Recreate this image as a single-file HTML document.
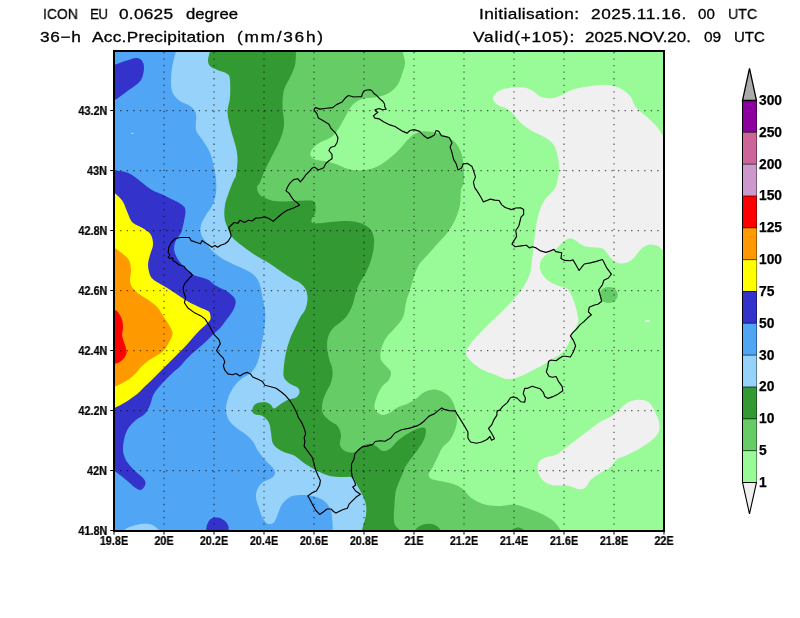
<!DOCTYPE html><html><head><meta charset="utf-8"><style>
html,body{margin:0;padding:0;background:#fff}
#w{position:relative;width:800px;height:618px;overflow:hidden;background:#fff;font-family:"Liberation Sans",sans-serif;color:#000}
.t{position:absolute;white-space:pre;font-size:15px;line-height:16px;transform-origin:0 50%;will-change:transform;-webkit-text-stroke:0.3px #000}
.cb{position:absolute;left:758.6px;font-weight:bold;font-size:13.8px;line-height:14px;-webkit-text-stroke:0.25px #000;will-change:transform}
.yl{position:absolute;right:692.6px;font-weight:bold;font-size:12.5px;line-height:12px;text-align:right;white-space:nowrap;transform:scaleX(0.87);transform-origin:100% 50%;-webkit-text-stroke:0.2px #000;will-change:transform}
.xl{position:absolute;top:534.6px;font-weight:bold;font-size:12.5px;line-height:12px;width:60px;text-align:center;margin-left:-30px;transform:scaleX(0.87);-webkit-text-stroke:0.2px #000;will-change:transform}

</style></head><body><div id="w">
<svg width="800" height="618" viewBox="0 0 800 618" style="position:absolute;left:0;top:0">
<defs><clipPath id="cp"><rect x="114.0" y="51.0" width="550.0" height="480.0"/></clipPath></defs>
<g clip-path="url(#cp)">
<rect x="100" y="40" width="600" height="520" fill="#98fb98"/>
<path d="M493.0,97.8C493.2,95.5 495.8,92.6 498.5,91.0C501.2,89.4 505.4,88.6 509.5,88.0C513.6,87.4 519.1,86.8 523.0,87.3C526.9,87.8 530.2,89.5 533.0,91.0C535.8,92.5 537.0,95.2 540.0,96.4C543.0,97.6 547.1,98.5 550.8,98.3C554.4,98.1 558.1,96.5 561.8,95.0C565.4,93.5 568.2,91.0 572.8,89.5C577.3,88.0 583.5,87.0 589.0,86.2C594.5,85.4 600.7,84.5 605.8,84.8C610.8,85.1 615.4,86.1 619.5,88.0C623.6,89.9 627.8,93.2 630.5,96.4C633.2,99.6 633.2,104.0 636.0,107.4C638.8,110.8 643.3,113.6 647.0,117.0C650.7,120.4 655.2,124.6 658.0,128.0C660.8,131.4 661.2,133.9 664.0,137.6C666.8,141.3 672.3,139.6 675.0,150.0C677.7,160.4 680.0,184.2 680.0,200.0C680.0,215.8 677.8,236.7 675.0,245.0C672.2,253.3 666.3,249.8 663.5,250.0C660.7,250.2 660.3,246.9 658.0,246.0C655.7,245.1 652.5,244.1 649.8,244.6C647.0,245.1 644.2,246.4 641.5,248.8C638.8,251.1 636.0,256.0 633.2,258.4C630.5,260.8 627.8,262.3 625.0,263.0C622.2,263.7 619.2,263.5 616.8,262.5C614.2,261.5 612.3,259.3 610.0,257.0C607.7,254.7 605.5,250.3 603.0,248.8C600.5,247.2 598.0,247.9 594.8,247.4C591.5,246.9 587.0,247.2 583.8,246.0C580.5,244.8 577.8,241.8 575.5,240.5C573.2,239.2 572.1,238.1 570.0,238.3C567.9,238.6 565.3,240.3 563.0,242.0C560.7,243.7 559.2,246.5 556.2,248.8C553.3,251.0 547.9,253.3 545.2,255.6C542.6,257.9 541.0,259.8 540.3,262.5C539.6,265.2 539.7,269.0 541.0,272.0C542.3,275.0 545.0,278.1 548.0,280.4C551.0,282.7 555.8,284.6 559.0,286.0C562.2,287.4 565.0,286.6 567.2,288.6C569.5,290.6 571.1,294.4 572.8,298.2C574.4,302.1 576.0,308.0 576.9,312.0C577.8,316.0 578.9,318.6 578.2,322.0C577.6,325.4 574.4,328.8 572.8,332.4C571.1,336.0 570.4,340.0 568.6,343.4C566.8,346.8 564.7,350.2 561.8,353.0C558.8,355.8 554.4,357.6 550.8,359.9C547.1,362.2 543.4,364.7 539.8,366.8C536.1,368.8 532.4,370.5 528.8,372.2C525.1,374.0 521.4,376.1 517.8,377.2C514.1,378.3 510.4,379.4 506.8,379.0C503.1,378.6 499.9,376.6 495.8,375.0C491.6,373.4 486.1,371.8 482.0,369.5C477.9,367.2 473.7,364.0 471.0,361.2C468.3,358.5 466.2,355.8 466.0,353.0C465.8,350.2 467.2,348.2 469.6,344.8C472.0,341.3 477.2,336.0 480.6,332.4C484.0,328.8 487.0,325.9 490.0,323.0C493.0,320.1 494.8,318.4 498.5,314.8C502.2,311.1 508.1,305.6 512.2,301.0C516.4,296.4 520.3,291.8 523.2,287.2C526.2,282.7 528.5,278.1 530.0,273.5C531.5,268.9 531.3,265.2 532.0,259.8C532.7,254.2 533.5,246.5 534.2,240.5C535.0,234.5 535.6,229.0 536.5,224.0C537.4,219.0 538.3,214.4 539.8,210.2C541.2,206.1 542.7,202.9 545.2,199.2C547.8,195.6 552.9,191.5 555.0,188.2C557.1,185.0 556.9,183.2 557.6,180.0C558.3,176.8 559.0,173.3 559.0,169.2C559.0,165.2 558.5,159.6 557.6,155.5C556.7,151.4 555.6,147.5 553.5,144.5C551.4,141.5 548.9,139.9 545.2,137.6C541.6,135.3 535.6,133.3 531.5,130.8C527.4,128.2 523.5,125.2 520.5,122.5C517.5,119.8 515.9,116.5 513.6,114.2C511.3,112.0 509.5,110.4 506.8,108.8C504.0,107.1 499.3,106.4 497.0,104.6C494.7,102.8 492.8,100.0 493.0,97.8Z" fill="#f0f0f0"/>
<path d="M538.4,463.0C539.5,460.4 542.3,458.9 545.2,457.5C548.2,456.1 552.6,456.6 556.2,454.8C559.9,452.9 563.6,449.2 567.2,446.5C570.9,443.8 574.6,441.0 578.2,438.2C581.9,435.5 585.6,432.8 589.2,430.0C592.9,427.2 596.6,424.0 600.2,421.8C603.9,419.5 608.0,418.3 611.2,416.2C614.5,414.2 616.8,411.7 619.5,409.4C622.2,407.1 624.5,404.1 627.8,402.5C631.0,400.9 635.3,399.8 638.8,399.8C642.2,399.7 645.9,400.4 648.4,402.0C650.9,403.6 652.2,406.3 653.9,409.4C655.6,412.5 657.7,417.0 658.6,420.4C659.5,423.8 660.0,427.2 659.4,430.0C658.8,432.8 657.3,434.6 655.2,436.9C653.2,439.2 650.2,441.5 647.0,443.8C643.8,446.0 639.7,448.6 636.0,450.6C632.3,452.6 628.2,454.6 625.0,456.0C621.8,457.4 619.2,457.3 616.8,459.2C614.2,461.2 612.8,465.2 610.0,467.5C607.2,469.8 603.5,470.9 600.2,473.0C597.0,475.1 593.1,477.5 590.6,480.0C588.1,482.5 587.1,486.5 585.0,488.0C582.9,489.5 581.2,489.4 578.2,489.0C575.3,488.6 571.4,486.0 567.2,485.4C563.1,484.8 557.4,486.1 553.5,485.4C549.6,484.7 546.5,483.3 544.0,481.2C541.5,479.2 539.3,476.0 538.4,473.0C537.5,470.0 537.3,465.6 538.4,463.0Z" fill="#f0f0f0"/>
<path d="M402.5,40.0C402.5,41.8 402.1,46.8 402.5,50.5C402.9,54.2 405.0,58.8 405.0,62.5C405.0,66.2 403.8,68.8 402.5,72.5C401.2,76.2 400.0,81.5 397.5,85.0C395.0,88.5 391.2,91.7 387.5,93.8C383.8,95.8 379.2,96.7 375.0,97.5C370.8,98.3 366.2,97.5 362.5,98.8C358.8,100.0 355.2,102.3 352.5,105.0C349.8,107.7 348.3,111.5 346.2,115.0C344.2,118.5 342.3,122.7 340.0,126.2C337.7,129.8 335.8,133.5 332.5,136.2C329.2,139.0 323.3,140.4 320.0,142.5C316.7,144.6 314.1,146.7 312.5,148.8C310.9,150.8 310.1,153.2 310.5,155.0C310.9,156.8 312.6,158.5 315.0,159.5C317.4,160.5 321.7,160.5 325.0,161.2C328.3,162.0 331.2,162.5 335.0,163.8C338.8,165.0 343.3,167.6 347.5,168.8C351.7,169.9 355.4,170.7 360.0,170.5C364.6,170.3 370.4,169.2 375.0,167.5C379.6,165.8 383.3,163.1 387.5,160.0C391.7,156.9 396.7,152.1 400.0,148.8C403.3,145.4 405.0,142.5 407.5,140.0C410.0,137.5 412.1,135.2 415.0,133.8C417.9,132.3 420.8,131.2 425.0,131.2C429.2,131.2 435.4,132.3 440.0,133.8C444.6,135.2 449.4,137.7 452.5,140.0C455.6,142.3 457.1,144.6 458.8,147.5C460.4,150.4 461.7,153.8 462.5,157.5C463.3,161.2 463.5,165.8 463.8,170.0C464.0,174.2 464.2,179.2 463.8,182.5C463.3,185.8 461.6,186.2 461.0,190.0C460.4,193.8 461.0,200.0 460.0,205.0C459.0,210.0 457.1,215.4 455.0,220.0C452.9,224.6 450.4,228.5 447.5,232.5C444.6,236.5 440.8,240.0 437.5,243.8C434.2,247.5 430.6,251.5 427.5,255.0C424.4,258.5 421.0,261.2 418.8,265.0C416.5,268.8 415.2,273.3 413.8,277.5C412.3,281.7 411.3,285.8 410.0,290.0C408.7,294.2 407.0,298.3 406.0,302.5C405.0,306.7 404.8,311.8 403.8,315.0C402.8,318.2 401.6,319.7 400.0,322.0C398.4,324.3 396.3,326.3 394.0,329.0C391.7,331.7 388.2,334.5 386.0,338.0C383.8,341.5 381.8,346.3 381.0,350.0C380.2,353.7 379.9,357.1 381.0,360.0C382.1,362.9 385.8,365.4 387.5,367.5C389.2,369.6 390.8,370.4 391.0,372.5C391.2,374.6 390.2,377.8 388.8,380.0C387.3,382.2 384.4,383.5 382.5,386.0C380.6,388.5 378.8,391.8 377.5,395.0C376.2,398.2 374.8,402.3 374.5,405.0C374.2,407.7 374.7,409.3 376.0,411.0C377.3,412.7 380.2,414.8 382.5,415.0C384.8,415.2 387.5,413.8 390.0,412.5C392.5,411.2 394.6,409.0 397.5,407.5C400.4,406.0 404.4,405.2 407.5,403.8C410.6,402.3 413.3,400.6 416.0,398.8C418.7,396.9 421.0,394.0 423.8,392.5C426.5,391.0 429.6,389.8 432.5,389.5C435.4,389.2 438.1,389.7 441.0,391.0C443.9,392.3 447.7,394.8 450.0,397.5C452.3,400.2 453.8,403.8 455.0,407.5C456.2,411.2 457.0,416.2 457.0,420.0C457.0,423.8 456.2,426.7 455.0,430.0C453.8,433.3 452.1,437.1 450.0,440.0C447.9,442.9 444.6,444.6 442.5,447.5C440.4,450.4 439.2,454.2 437.5,457.5C435.8,460.8 434.0,464.8 432.5,467.5C431.0,470.2 429.0,471.9 428.8,473.8C428.5,475.6 429.1,477.5 431.0,478.8C432.9,480.0 436.4,480.2 440.0,481.0C443.6,481.8 448.8,482.5 452.5,483.8C456.2,485.0 459.4,486.4 462.5,488.8C465.6,491.1 467.3,495.1 471.0,497.8C474.7,500.4 479.7,503.2 484.8,504.6C489.8,506.0 496.2,506.0 501.2,506.0C506.3,506.0 510.4,504.1 515.0,504.6C519.6,505.1 524.2,507.1 528.8,508.8C533.3,510.4 538.4,512.2 542.5,514.2C546.6,516.3 550.5,518.3 553.5,521.0C556.5,523.7 558.8,527.0 560.4,530.2C562.0,533.4 562.6,538.4 563.0,540.0L100.0,545.0L100.0,40.0Z" fill="#66cc66"/>
<ellipse cx="608.6" cy="295" rx="9.2" ry="8" fill="#66cc66"/>
<path d="M296.0,40.0C296.0,41.8 296.2,46.3 296.0,50.5C295.8,54.7 296.0,60.5 295.0,65.0C294.0,69.5 291.8,73.3 290.0,77.5C288.2,81.7 285.2,85.4 284.0,90.0C282.8,94.6 282.5,99.2 282.5,105.0C282.5,110.8 284.4,119.2 284.0,125.0C283.6,130.8 281.9,135.0 280.0,140.0C278.1,145.0 275.0,150.0 272.5,155.0C270.0,160.0 267.1,165.4 265.0,170.0C262.9,174.6 261.3,179.6 260.0,182.5C258.7,185.4 257.0,185.4 257.0,187.5C257.0,189.6 257.8,192.9 260.0,195.0C262.2,197.1 266.7,198.9 270.0,200.0C273.3,201.1 275.8,201.3 280.0,201.5C284.2,201.7 290.2,201.2 295.0,201.0C299.8,200.8 305.8,200.4 309.0,200.5C312.2,200.6 312.9,200.6 314.0,201.5C315.1,202.4 315.3,204.0 315.5,206.0C315.7,208.0 315.7,211.5 315.0,213.8C314.3,216.0 311.7,217.9 311.5,219.5C311.3,221.1 310.9,223.1 314.0,223.5C317.1,223.9 324.4,222.4 330.0,222.0C335.6,221.6 342.5,220.8 347.5,221.0C352.5,221.2 356.2,221.7 360.0,223.0C363.8,224.3 367.7,226.3 370.0,228.8C372.3,231.2 373.1,234.4 373.8,237.5C374.4,240.6 374.2,243.8 373.8,247.5C373.3,251.2 372.3,255.8 371.0,260.0C369.7,264.2 367.8,268.8 366.0,272.5C364.2,276.2 361.7,279.2 360.0,282.5C358.3,285.8 357.2,288.8 356.0,292.5C354.8,296.2 353.9,301.2 352.5,305.0C351.1,308.8 349.2,312.3 347.5,315.0C345.8,317.7 344.3,318.9 342.0,321.0C339.7,323.1 336.0,325.2 333.8,327.5C331.5,329.8 329.9,332.1 328.8,335.0C327.6,337.9 327.0,341.2 327.0,345.0C327.0,348.8 327.8,353.3 328.8,357.5C329.7,361.7 332.1,365.8 332.5,370.0C332.9,374.2 332.1,378.8 331.0,382.5C329.9,386.2 327.4,389.2 326.0,392.5C324.6,395.8 323.1,399.2 322.5,402.5C321.9,405.8 321.5,409.6 322.5,412.5C323.5,415.4 326.2,417.8 328.8,420.0C331.2,422.2 335.5,423.5 337.5,426.0C339.5,428.5 340.6,431.8 341.0,435.0C341.4,438.2 339.3,442.3 340.0,445.0C340.7,447.7 342.7,449.8 345.0,451.0C347.3,452.2 351.1,453.1 353.8,452.5C356.4,451.9 358.5,449.0 361.0,447.5C363.5,446.0 366.2,444.0 368.8,443.8C371.2,443.5 373.7,444.8 376.0,446.0C378.3,447.2 380.2,450.5 382.5,451.0C384.8,451.5 387.5,450.4 390.0,448.8C392.5,447.1 394.6,443.5 397.5,441.0C400.4,438.5 404.2,435.8 407.5,433.8C410.8,431.7 414.8,429.8 417.5,428.8C420.2,427.7 422.3,427.1 423.8,427.5C425.2,427.9 426.0,428.9 426.0,431.0C426.0,433.1 425.2,436.8 423.8,440.0C422.3,443.2 419.8,446.7 417.5,450.0C415.2,453.3 412.1,457.1 410.0,460.0C407.9,462.9 406.2,465.2 405.0,467.5C403.8,469.8 403.5,471.5 402.5,474.0C401.5,476.5 399.9,479.4 398.8,482.5C397.6,485.6 396.2,488.8 395.5,492.5C394.8,496.2 394.8,500.8 394.5,505.0C394.2,509.2 393.7,514.2 393.8,517.5C393.8,520.8 394.0,522.8 395.0,525.0C396.0,527.2 398.5,528.0 400.0,530.5C401.5,533.0 403.3,538.4 404.0,540.0L100.0,545.0L100.0,40.0Z" fill="#339933"/>
<path d="M412.0,540.0C412.5,538.4 413.7,532.8 415.0,530.5C416.3,528.2 417.9,527.1 420.0,526.0C422.1,524.9 425.0,523.9 427.5,523.8C430.0,523.6 432.8,523.9 435.0,525.0C437.2,526.1 439.5,528.0 441.0,530.5C442.5,533.0 443.5,538.4 444.0,540.0Z" fill="#339933"/>
<path d="M509.0,536.0C509.3,535.1 509.5,531.9 511.0,530.5C512.5,529.1 515.5,527.5 517.8,527.5C520.0,527.5 523.2,529.1 524.6,530.5C526.0,531.9 525.8,535.1 526.0,536.0Z" fill="#339933"/>
<path d="M210.0,40.0C210.0,41.8 210.3,47.2 210.0,50.5C209.7,53.8 208.0,57.4 208.0,60.0C208.0,62.6 208.4,64.3 210.0,66.0C211.6,67.7 214.6,68.7 217.5,70.0C220.4,71.3 225.4,72.3 227.5,74.0C229.6,75.7 229.6,76.1 230.0,80.0C230.4,83.9 230.4,92.1 230.0,97.5C229.6,102.9 227.3,107.1 227.5,112.5C227.7,117.9 229.6,124.2 231.0,130.0C232.4,135.8 234.9,142.5 236.0,147.5C237.1,152.5 237.5,155.4 237.5,160.0C237.5,164.6 236.6,171.7 236.0,175.0C235.4,178.3 235.0,177.1 233.8,180.0C232.5,182.9 230.2,188.3 228.8,192.5C227.3,196.7 225.7,200.8 225.0,205.0C224.3,209.2 224.1,213.8 224.5,217.5C224.9,221.2 226.2,224.2 227.5,227.5C228.8,230.8 230.0,234.4 232.5,237.5C235.0,240.6 238.8,243.1 242.5,246.0C246.2,248.9 250.4,252.0 255.0,255.0C259.6,258.0 265.4,260.8 270.0,263.8C274.6,266.7 278.8,270.0 282.5,272.5C286.2,275.0 289.6,277.2 292.5,279.0C295.4,280.8 297.8,281.2 300.0,283.0C302.2,284.8 304.8,287.2 306.0,290.0C307.2,292.8 307.7,296.7 307.5,300.0C307.3,303.3 306.2,307.1 305.0,310.0C303.8,312.9 301.5,314.8 300.0,317.5C298.5,320.2 297.3,323.2 296.0,326.0C294.7,328.8 293.2,331.3 292.0,334.0C290.8,336.7 290.0,338.9 289.0,342.0C288.0,345.1 286.9,348.2 286.0,352.5C285.1,356.8 284.1,363.3 283.8,367.5C283.4,371.7 283.0,374.8 284.0,377.5C285.0,380.2 287.8,382.1 290.0,383.8C292.2,385.4 295.9,386.0 297.5,387.5C299.1,389.0 299.8,390.8 299.5,392.5C299.2,394.2 298.0,396.2 296.0,397.5C294.0,398.8 290.2,398.8 287.5,400.0C284.8,401.2 282.2,403.1 280.0,404.5C277.8,405.9 275.5,408.4 274.0,408.5C272.5,408.6 272.5,406.1 271.0,405.0C269.5,403.9 267.5,402.2 265.0,402.0C262.5,401.8 258.1,402.6 256.0,403.8C253.9,404.9 252.9,407.1 252.5,408.8C252.1,410.4 252.1,412.5 253.8,413.8C255.4,415.0 260.0,414.5 262.5,416.0C265.0,417.5 267.3,419.8 268.8,422.5C270.2,425.2 270.4,429.2 271.0,432.5C271.6,435.8 271.5,439.9 272.5,442.5C273.5,445.1 274.9,446.3 277.0,448.0C279.1,449.7 282.0,451.2 285.0,452.5C288.0,453.8 291.7,454.1 295.0,456.0C298.3,457.9 301.2,461.2 305.0,463.8C308.8,466.2 313.3,469.0 317.5,471.0C321.7,473.0 325.8,475.0 330.0,476.0C334.2,477.0 338.8,476.8 342.5,477.0C346.2,477.2 350.0,476.0 352.5,477.5C355.0,479.0 355.8,483.1 357.5,486.0C359.2,488.9 361.1,491.8 362.5,495.0C363.9,498.2 365.4,501.7 366.0,505.0C366.6,508.3 366.4,511.9 366.0,515.0C365.6,518.1 364.4,521.2 363.8,523.8C363.1,526.3 362.5,527.8 362.0,530.5C361.5,533.2 361.2,538.4 361.0,540.0L100.0,545.0L100.0,40.0Z" fill="#96d2fa"/>
<path d="M176.0,40.0C176.0,41.8 176.6,46.3 176.0,50.5C175.4,54.7 173.3,60.1 172.5,65.0C171.7,69.9 171.0,75.4 171.0,80.0C171.0,84.6 171.0,89.0 172.5,92.5C174.0,96.0 177.1,98.8 180.0,101.0C182.9,103.2 187.3,103.8 190.0,106.0C192.7,108.2 195.0,110.0 196.0,114.0C197.0,118.0 194.9,125.7 196.0,130.0C197.1,134.3 200.2,136.2 202.5,140.0C204.8,143.8 208.1,147.9 210.0,152.5C211.9,157.1 213.0,162.9 214.0,167.5C215.0,172.1 215.7,175.8 216.0,180.0C216.3,184.2 216.6,188.3 216.0,192.5C215.4,196.7 214.2,201.2 212.5,205.0C210.8,208.8 207.9,211.7 206.0,215.0C204.1,218.3 201.8,221.9 201.0,225.0C200.2,228.1 200.2,230.8 201.0,233.8C201.8,236.7 204.1,239.6 206.0,242.5C207.9,245.4 209.8,248.3 212.5,251.0C215.2,253.7 218.8,256.4 222.5,258.8C226.2,261.1 231.1,263.1 235.0,265.0C238.9,266.9 242.7,268.2 246.0,270.0C249.3,271.8 252.7,273.5 255.0,276.0C257.3,278.5 258.8,281.4 260.0,285.0C261.2,288.6 261.7,293.3 262.5,297.5C263.3,301.7 264.6,305.8 265.0,310.0C265.4,314.2 265.2,318.8 265.0,322.5C264.8,326.2 264.4,328.3 263.8,332.5C263.1,336.7 262.0,342.5 261.0,347.5C260.0,352.5 259.2,358.3 257.5,362.5C255.8,366.7 253.9,369.6 251.0,372.5C248.1,375.4 243.1,377.3 240.0,380.0C236.9,382.7 234.6,385.4 232.5,388.8C230.4,392.1 228.6,396.5 227.5,400.0C226.4,403.5 225.8,406.7 226.0,410.0C226.2,413.3 227.1,417.1 228.8,420.0C230.4,422.9 233.3,425.2 236.0,427.5C238.7,429.8 242.2,431.5 245.0,433.8C247.8,436.0 250.4,438.3 252.5,441.0C254.6,443.7 255.4,446.8 257.5,450.0C259.6,453.2 262.5,457.1 265.0,460.0C267.5,462.9 270.8,465.4 272.5,467.5C274.2,469.6 275.0,470.8 275.0,472.5C275.0,474.2 274.6,475.8 272.5,477.5C270.4,479.2 265.0,480.6 262.5,482.5C260.0,484.4 258.6,486.2 257.5,488.8C256.4,491.2 255.8,494.4 256.0,497.5C256.2,500.6 257.7,504.2 258.8,507.5C259.8,510.8 261.0,514.8 262.5,517.5C264.0,520.2 265.6,522.9 267.5,523.8C269.4,524.6 272.1,524.0 273.8,522.5C275.4,521.0 276.3,517.8 277.5,515.0C278.7,512.2 279.6,508.5 281.0,506.0C282.4,503.5 284.1,501.7 286.0,500.0C287.9,498.3 289.3,496.8 292.5,496.0C295.7,495.2 300.8,494.8 305.0,495.0C309.2,495.2 314.0,496.2 317.5,497.5C321.0,498.8 323.8,500.2 326.0,502.5C328.2,504.8 329.9,507.7 331.0,511.0C332.1,514.3 332.2,519.2 332.5,522.5C332.8,525.8 332.5,527.6 332.5,530.5C332.5,533.4 332.5,538.4 332.5,540.0L100.0,545.0L100.0,40.0Z" fill="#50a5f5"/>
<path d="M120.0,540.0C120.6,538.4 121.7,532.8 123.8,530.5C125.8,528.2 129.2,527.1 132.5,526.0C135.8,524.9 140.4,523.9 143.8,523.8C147.1,523.6 150.0,523.9 152.5,525.0C155.0,526.1 157.2,528.0 158.8,530.5C160.3,533.0 161.5,538.4 162.0,540.0Z" fill="#96d2fa"/>
<path d="M100.0,68.0C102.3,67.5 109.8,66.2 114.0,65.0C118.2,63.8 121.1,62.2 125.0,61.0C128.9,59.8 134.4,57.3 137.5,58.0C140.6,58.7 143.2,61.3 143.8,65.0C144.3,68.7 143.7,75.7 141.0,80.0C138.3,84.3 132.0,87.6 127.5,91.0C123.0,94.4 118.6,98.0 114.0,100.5C109.4,103.0 102.3,105.1 100.0,106.0Z" fill="#3333cc"/>
<path d="M100.0,166.0C102.4,166.7 109.8,169.0 114.4,170.1C119.0,171.2 123.9,171.4 127.5,172.8C131.1,174.1 133.3,176.0 136.2,178.0C139.2,180.0 142.1,182.8 145.0,185.0C147.9,187.2 150.8,189.5 153.8,191.1C156.7,192.7 159.6,193.3 162.5,194.6C165.4,195.9 168.3,197.5 171.2,199.0C174.2,200.5 177.8,202.0 180.0,203.4C182.2,204.8 183.7,206.0 184.6,207.3C185.5,208.6 185.3,209.8 185.4,211.0C185.5,212.2 185.6,212.7 185.2,214.8C184.9,216.8 184.2,220.5 183.5,223.5C182.8,226.5 182.3,230.0 181.2,232.5C180.2,235.0 178.0,236.7 176.9,238.8C175.8,240.8 174.8,242.9 174.4,245.0C174.0,247.1 174.0,249.2 174.4,251.2C174.8,253.3 175.8,255.4 176.9,257.5C178.0,259.6 179.7,261.9 181.2,263.8C182.8,265.6 184.4,267.0 186.2,268.8C188.1,270.5 190.2,273.0 192.5,274.4C194.8,275.8 197.3,276.0 200.0,276.9C202.7,277.8 206.2,278.6 208.8,280.0C211.2,281.4 212.2,283.5 215.0,285.2C217.8,287.0 222.6,288.8 225.5,290.5C228.4,292.2 230.8,294.0 232.5,295.8C234.2,297.5 235.3,299.0 235.6,301.0C235.9,303.0 235.1,305.8 234.2,308.0C233.4,310.2 232.2,311.8 230.8,314.0C229.3,316.2 227.2,318.7 225.5,321.0C223.8,323.3 222.3,325.8 220.2,328.0C218.2,330.2 215.6,332.0 213.2,334.2C210.9,336.5 208.6,339.1 206.2,341.2C203.9,343.4 201.6,345.4 199.2,347.4C196.9,349.4 194.6,351.3 192.2,353.5C189.9,355.7 187.3,358.3 185.2,360.5C183.2,362.7 182.1,364.5 180.0,366.6C177.9,368.7 175.4,370.3 172.5,373.0C169.6,375.7 165.6,379.5 162.5,383.0C159.4,386.5 155.8,390.3 153.8,394.0C151.7,397.7 151.5,401.7 150.0,405.0C148.5,408.3 147.3,411.2 145.0,413.8C142.7,416.2 138.7,417.7 136.0,420.0C133.3,422.3 130.7,424.6 128.8,427.5C126.8,430.4 125.5,433.8 124.5,437.5C123.5,441.2 122.9,446.6 123.0,450.0C123.1,453.4 124.2,455.9 125.0,458.0C125.8,460.1 125.8,460.3 127.5,462.5C129.2,464.7 132.5,468.5 135.0,471.0C137.5,473.5 140.8,475.6 142.5,477.5C144.2,479.4 145.3,480.8 145.5,482.5C145.7,484.2 144.7,486.2 143.8,487.5C142.8,488.8 141.5,490.0 140.0,490.0C138.5,490.0 137.1,489.0 135.0,487.5C132.9,486.0 130.0,483.1 127.5,481.0C125.0,478.9 122.2,476.7 120.0,475.0C117.8,473.3 117.3,472.7 114.0,471.0C110.7,469.3 102.3,466.0 100.0,465.0Z" fill="#3333cc"/>
<path d="M205.0,540.0C205.2,538.4 205.6,533.2 206.0,530.5C206.4,527.8 206.7,525.7 207.5,523.8C208.3,521.8 209.3,519.8 211.0,518.8C212.7,517.7 215.4,517.3 217.5,517.5C219.6,517.7 222.0,518.8 223.8,520.0C225.5,521.2 227.2,523.2 228.0,525.0C228.8,526.8 228.4,528.0 228.8,530.5C229.1,533.0 229.8,538.4 230.0,540.0Z" fill="#3333cc"/>
<path d="M100.0,180.0C102.3,182.1 110.2,189.0 114.0,192.5C117.8,196.0 120.2,197.7 122.5,201.0C124.8,204.3 125.8,208.9 127.5,212.5C129.2,216.1 129.8,219.8 132.5,222.5C135.2,225.2 140.7,226.7 143.8,228.8C146.8,230.8 149.5,232.3 151.0,235.0C152.5,237.7 153.2,241.7 153.0,245.0C152.8,248.3 150.8,251.7 150.0,255.0C149.2,258.3 148.0,261.7 148.0,265.0C148.0,268.3 149.0,272.5 150.0,275.0C151.0,277.5 151.7,278.3 153.8,280.0C155.8,281.7 159.6,283.5 162.5,285.2C165.4,287.0 168.3,288.6 171.2,290.5C174.2,292.4 177.1,294.7 180.0,296.6C182.9,298.5 185.8,300.3 188.8,301.9C191.7,303.5 194.9,305.0 197.5,306.2C200.1,307.5 202.6,308.4 204.5,309.3C206.4,310.2 208.0,310.9 209.0,311.8C210.0,312.7 210.1,314.1 210.3,314.5L210.3,314.5C210.3,315.3 211.0,317.9 210.3,319.5C209.6,321.1 208.1,322.3 206.3,324.2C204.5,326.1 201.6,328.4 199.2,330.8C196.9,333.1 194.6,336.0 192.2,338.6C189.9,341.2 187.6,344.0 185.2,346.5C182.9,349.0 180.6,351.2 178.2,353.5C175.9,355.8 173.6,358.2 171.2,360.5C168.9,362.8 166.6,365.2 164.2,367.5C161.9,369.8 159.6,372.2 157.2,374.5C154.9,376.8 152.6,379.2 150.2,381.5C147.9,383.8 145.4,386.0 143.2,388.0C141.1,390.0 140.5,391.3 137.5,393.8C134.5,396.2 128.9,400.1 125.0,402.5C121.1,404.9 118.2,406.1 114.0,408.0C109.8,409.9 102.3,413.0 100.0,414.0Z" fill="#ffff00"/>
<path d="M100.0,243.0C102.3,243.8 110.5,246.4 114.0,248.0C117.5,249.6 118.5,250.5 121.0,252.5C123.5,254.5 127.1,257.1 128.8,260.0C130.4,262.9 130.8,266.7 131.0,270.0C131.2,273.3 129.8,277.2 130.0,280.0C130.2,282.8 130.5,284.7 132.0,287.0C133.5,289.3 136.2,291.8 139.0,294.0C141.8,296.2 145.5,297.8 148.5,300.0C151.5,302.2 154.9,304.5 157.2,307.0C159.6,309.5 160.8,312.3 162.5,315.0C164.2,317.7 166.2,320.4 167.8,323.0C169.3,325.6 171.3,328.6 172.0,330.8C172.7,332.9 172.6,334.0 172.0,336.0C171.4,338.0 169.9,340.7 168.6,343.0C167.3,345.3 166.1,348.0 164.2,350.0C162.4,352.0 159.9,353.5 157.2,355.2C154.6,357.0 151.1,358.6 148.5,360.5C145.9,362.4 143.5,364.6 141.5,366.6C139.5,368.6 138.3,370.7 136.2,372.8C134.2,374.8 131.9,377.1 129.2,379.0C126.6,380.9 123.0,382.7 120.5,384.0C118.0,385.3 117.8,385.4 114.4,386.8C111.0,388.1 102.4,391.1 100.0,392.0Z" fill="#ff9900"/>
<path d="M100.0,305.0C102.4,305.8 111.3,308.4 114.4,309.8C117.5,311.1 117.4,311.5 118.8,313.2C120.1,315.0 121.5,317.9 122.2,320.2C123.0,322.6 123.0,324.6 123.0,327.2C123.0,329.9 121.9,333.1 122.2,336.0C122.6,338.9 124.2,342.1 124.9,344.8C125.6,347.4 126.6,349.7 126.6,351.8C126.6,353.8 125.9,355.4 124.9,357.0C123.9,358.6 122.2,360.2 120.5,361.4C118.8,362.6 117.8,362.7 114.4,364.0C111.0,365.3 102.4,368.2 100.0,369.0Z" fill="#ff0000"/>
<rect x="131.6" y="132.9" width="1.6" height="0.9" fill="#fff" fill-opacity="0.85"/>
<rect x="645.5" y="320.3" width="4.5" height="1.4" fill="#fff"/>
</g>
<g stroke="#000" stroke-opacity="0.65" stroke-width="1.2" stroke-dasharray="1.3 5.25" fill="none">
<line x1="164.0" y1="524.8" x2="164.0" y2="51.0"/>
<line x1="214.0" y1="524.8" x2="214.0" y2="51.0"/>
<line x1="264.0" y1="524.8" x2="264.0" y2="51.0"/>
<line x1="314.0" y1="524.8" x2="314.0" y2="51.0"/>
<line x1="364.0" y1="524.8" x2="364.0" y2="51.0"/>
<line x1="414.0" y1="524.8" x2="414.0" y2="51.0"/>
<line x1="464.0" y1="524.8" x2="464.0" y2="51.0"/>
<line x1="514.0" y1="524.8" x2="514.0" y2="51.0"/>
<line x1="564.0" y1="524.8" x2="564.0" y2="51.0"/>
<line x1="614.0" y1="524.8" x2="614.0" y2="51.0"/>
<line x1="120.2" y1="470.54999999999995" x2="664.0" y2="470.54999999999995"/>
<line x1="120.2" y1="410.54999999999995" x2="664.0" y2="410.54999999999995"/>
<line x1="120.2" y1="350.54999999999995" x2="664.0" y2="350.54999999999995"/>
<line x1="120.2" y1="290.54999999999995" x2="664.0" y2="290.54999999999995"/>
<line x1="120.2" y1="230.54999999999995" x2="664.0" y2="230.54999999999995"/>
<line x1="120.2" y1="170.54999999999995" x2="664.0" y2="170.54999999999995"/>
<line x1="120.2" y1="110.54999999999995" x2="664.0" y2="110.54999999999995"/>
</g>
<path d="M231.0,225.5 L234.0,222.5 L237.8,223.3 L240.0,220.2 L244.6,222.5 L248.3,220.2 L252.1,221.0 L255.9,218.0 L259.6,218.0 L264.9,216.9 L269.4,218.7 L273.2,221.4 L277.0,218.0 L282.2,213.5 L286.7,210.5 L292.8,208.2 L299.5,205.2 L297.3,202.9 L293.5,199.9 L291.3,196.9 L289.0,193.1 L286.0,190.9 L287.5,187.1 L289.8,183.3 L293.5,179.6 L298.0,178.8 L300.3,181.8 L303.3,178.5 L305.6,175.1 L309.3,171.3 L312.0,168.2 L314.6,167.1 L318.4,170.0 L323.7,167.7 L325.9,163.3 L329.7,160.3 L332.0,158.8 L332.0,154.3 L328.9,150.5 L330.5,147.5 L335.0,146.0 L337.2,142.2 L338.0,137.7 L335.7,133.2 L331.2,128.7 L328.9,124.2 L323.7,121.1 L318.4,118.1 L316.9,113.6 L313.9,109.8 L315.4,107.6 L319.9,109.1 L326.7,108.3 L332.7,107.6 L336.5,104.6 L341.7,102.3 L345.5,97.8 L348.5,95.5 L353.8,97.0 L358.3,96.7 L361.5,96.8 L362.5,93.5 L364.0,90.8 L367.0,90.0 L370.0,89.8 L372.0,90.8 L374.0,93.5 L377.0,95.8 L380.0,99.0 L383.0,101.5 L384.5,104.0 L384.8,107.0 L386.2,109.2 L382.0,109.5 L379.0,108.5 L375.0,109.8 L375.5,111.0 L377.8,112.2 L373.4,115.9 L374.9,118.1 L379.4,118.9 L383.9,121.9 L389.9,124.9 L395.0,126.5 L398.5,128.8 L402.9,131.4 L407.2,133.1 L409.9,130.5 L414.2,129.6 L419.5,131.4 L423.9,135.8 L427.4,138.4 L431.8,136.6 L434.4,134.9 L436.1,130.5 L438.8,131.4 L441.4,135.8 L445.8,136.6 L449.2,137.5 L451.9,142.8 L450.1,147.1 L451.9,152.4 L453.6,159.4 L456.2,163.8 L458.0,169.9 L461.5,168.1 L463.2,163.8 L467.6,163.4 L472.0,166.4 L473.8,171.6 L475.5,176.9 L473.4,182.1 L474.6,187.4 L478.1,192.6 L480.8,197.0 L483.4,201.9 L486.9,200.5 L490.4,199.1 L494.8,200.1 L499.1,200.5 L501.8,204.9 L505.2,207.5 L511.4,209.6 L515.8,208.0 L521.0,207.9 L523.6,209.6 L523.6,214.5 L521.0,217.1 L520.3,220.0 L518.8,226.0 L515.8,230.5 L516.6,236.6 L513.6,241.1 L512.0,244.1 L515.1,246.8 L521.1,245.9 L526.4,245.3 L529.4,247.9 L532.4,246.8 L536.1,247.9 L540.7,250.9 L545.9,252.4 L550.5,250.9 L553.9,249.4 L555.7,251.6 L561.7,252.8 L561.0,258.4 L564.8,260.4 L570.0,260.7 L573.0,259.9 L575.3,263.7 L579.1,270.5 L582.1,266.7 L584.3,264.0 L590.4,262.9 L596.4,261.4 L602.4,259.5 L603.9,262.2 L606.9,268.2 L611.4,274.2 L608.4,278.0 L603.9,280.2 L602.4,284.8 L598.6,290.0 L600.2,295.3 L601.7,301.3 L597.9,304.3 L594.5,305.0 L589.2,307.3 L588.4,311.8 L591.4,314.8 L587.7,317.8 L583.9,321.6 L580.2,324.6 L576.4,329.1 L572.6,332.9 L570.4,335.9 L573.4,340.4 L575.6,345.7 L573.4,351.7 L570.4,357.0 L565.8,356.2 L562.8,356.2 L559.1,358.5 L556.1,360.7 L550.8,360.0 L548.5,361.5 L547.8,366.7 L546.3,372.0 L549.3,376.5 L552.3,377.3 L556.1,376.5 L558.3,381.1 L562.1,386.3 L562.8,390.8 L558.3,393.9 L552.3,396.9 L548.0,398.4 L544.8,396.5 L543.3,392.3 L540.2,388.8 L536.0,387.5 L532.2,386.3 L527.7,388.3 L524.7,388.3 L523.2,393.6 L525.4,398.1 L524.7,402.3 L520.9,401.8 L517.1,398.1 L513.4,396.9 L510.4,397.8 L507.3,402.6 L502.8,406.4 L499.8,410.1 L497.1,410.9 L496.8,415.4 L493.8,419.9 L491.5,425.2 L488.5,428.5 L490.8,432.0 L493.0,435.7 L494.5,438.7 L491.5,440.2 L490.0,436.5 L487.0,439.5 L481.7,442.0 L476.5,443.3 L470.5,442.0 L467.9,438.0 L467.9,432.0 L464.4,425.9 L460.7,419.9 L456.9,413.9 L455.4,410.9 L449.4,410.6 L444.1,409.4 L441.8,407.9 L438.8,410.1 L434.3,413.9 L429.0,416.1 L424.5,420.7 L420.5,424.0 L417.7,425.6 L409.6,428.1 L401.4,429.7 L394.8,433.0 L390.8,437.9 L385.0,441.2 L380.1,440.8 L375.2,441.5 L372.8,444.4 L367.0,446.1 L362.1,446.9 L358.1,450.2 L354.8,454.2 L354.0,459.1 L351.5,464.1 L351.5,472.2 L352.3,477.1 L354.8,482.0 L355.6,485.3 L352.7,486.9 L355.6,491.0 L360.5,494.3 L356.4,496.8 L352.3,500.9 L349.1,504.1 L347.4,508.2 L342.5,509.8 L336.0,513.1 L333.5,511.5 L331.1,509.0 L327.0,509.0 L322.9,512.3 L319.6,514.4 L315.5,509.8 L312.3,504.1 L309.8,499.2 L307.8,495.9 L312.3,492.7 L316.4,491.0 L319.6,485.3 L320.4,480.4 L318.0,475.5 L315.5,469.8 L313.9,463.2 L312.3,457.5 L308.2,451.8 L304.1,446.1 L304.9,441.2 L304.1,437.9 L305.7,433.8 L304.1,428.1 L301.6,422.4 L300.0,419.9 L298.6,418.0 L296.4,412.3 L293.4,406.3 L289.6,400.3 L285.8,395.8 L281.3,392.0 L276.1,388.3 L270.8,386.7 L264.8,385.2 L262.5,381.5 L258.0,379.2 L252.7,377.0 L250.5,373.9 L247.4,372.4 L243.7,373.5 L239.9,375.9 L236.1,373.5 L232.4,374.7 L227.9,373.9 L224.8,370.2 L223.3,365.7 L224.8,361.9 L223.3,358.1 L219.6,354.4 L216.6,350.6 L218.1,347.6 L220.3,343.8 L218.8,339.3 L214.3,334.8 L211.3,329.5 L209.0,325.0 L208.0,323.8 L205.4,319.4 L201.0,315.9 L194.0,312.4 L187.9,308.0 L184.4,302.8 L185.6,297.5 L183.8,292.5 L183.1,287.5 L185.0,283.1 L188.8,278.8 L192.5,275.0 L190.0,272.5 L186.2,269.4 L183.8,266.2 L179.4,265.0 L176.2,262.5 L173.1,260.6 L172.5,257.8 L170.0,258.5 L168.1,257.2 L170.0,255.0 L168.1,252.5 L168.8,247.5 L171.2,242.5 L175.0,238.8 L180.0,237.5 L185.0,237.5 L189.4,237.5 L191.2,240.6 L197.5,242.8 L200.6,243.8 L201.9,240.6 L205.0,242.5 L208.8,245.0 L211.9,247.2 L215.0,245.6 L217.5,247.2 L221.2,245.0 L225.0,243.8 L228.1,241.2 L231.2,236.2 L230.0,231.2 L228.8,227.5Z" fill="none" stroke="#000" stroke-width="1.15" stroke-linejoin="round"/>
<rect x="114.0" y="51.0" width="550.0" height="480.0" fill="none" stroke="#000" stroke-width="2"/>
<g stroke="#000" stroke-width="1">
<line x1="114.0" y1="531.0" x2="114.0" y2="534.6"/>
<line x1="164.0" y1="531.0" x2="164.0" y2="534.6"/>
<line x1="214.0" y1="531.0" x2="214.0" y2="534.6"/>
<line x1="264.0" y1="531.0" x2="264.0" y2="534.6"/>
<line x1="314.0" y1="531.0" x2="314.0" y2="534.6"/>
<line x1="364.0" y1="531.0" x2="364.0" y2="534.6"/>
<line x1="414.0" y1="531.0" x2="414.0" y2="534.6"/>
<line x1="464.0" y1="531.0" x2="464.0" y2="534.6"/>
<line x1="514.0" y1="531.0" x2="514.0" y2="534.6"/>
<line x1="564.0" y1="531.0" x2="564.0" y2="534.6"/>
<line x1="614.0" y1="531.0" x2="614.0" y2="534.6"/>
<line x1="664.0" y1="531.0" x2="664.0" y2="534.6"/>
<line x1="110.2" y1="530.55" x2="114.0" y2="530.55"/>
<line x1="110.2" y1="470.54999999999995" x2="114.0" y2="470.54999999999995"/>
<line x1="110.2" y1="410.54999999999995" x2="114.0" y2="410.54999999999995"/>
<line x1="110.2" y1="350.54999999999995" x2="114.0" y2="350.54999999999995"/>
<line x1="110.2" y1="290.54999999999995" x2="114.0" y2="290.54999999999995"/>
<line x1="110.2" y1="230.54999999999995" x2="114.0" y2="230.54999999999995"/>
<line x1="110.2" y1="170.54999999999995" x2="114.0" y2="170.54999999999995"/>
<line x1="110.2" y1="110.54999999999995" x2="114.0" y2="110.54999999999995"/>
</g>
<rect x="742.5" y="100.50" width="14.0" height="32.13" fill="#8c00a0" shape-rendering="crispEdges"/>
<rect x="742.5" y="132.33" width="14.0" height="32.13" fill="#cc6699" shape-rendering="crispEdges"/>
<rect x="742.5" y="164.16" width="14.0" height="32.13" fill="#cc99cc" shape-rendering="crispEdges"/>
<rect x="742.5" y="195.99" width="14.0" height="32.13" fill="#ff0000" shape-rendering="crispEdges"/>
<rect x="742.5" y="227.82" width="14.0" height="32.13" fill="#ff9900" shape-rendering="crispEdges"/>
<rect x="742.5" y="259.65" width="14.0" height="32.13" fill="#ffff00" shape-rendering="crispEdges"/>
<rect x="742.5" y="291.48" width="14.0" height="32.13" fill="#3333cc" shape-rendering="crispEdges"/>
<rect x="742.5" y="323.31" width="14.0" height="32.13" fill="#50a5f5" shape-rendering="crispEdges"/>
<rect x="742.5" y="355.14" width="14.0" height="32.13" fill="#96d2fa" shape-rendering="crispEdges"/>
<rect x="742.5" y="386.97" width="14.0" height="32.13" fill="#339933" shape-rendering="crispEdges"/>
<rect x="742.5" y="418.80" width="14.0" height="32.13" fill="#66cc66" shape-rendering="crispEdges"/>
<rect x="742.5" y="450.63" width="14.0" height="32.13" fill="#98fb98" shape-rendering="crispEdges"/>
<path d="M742.5,100.5 L749.5,68.3 L756.5,100.5Z" fill="#aaaaaa" stroke="#000" stroke-width="1.3" stroke-linejoin="miter"/>
<path d="M742.5,482.46 L749.5,513.8 L756.5,482.46Z" fill="#f0f0f0" stroke="#000" stroke-width="1.1" stroke-linejoin="miter"/>
<line x1="742.5" y1="100.5" x2="742.5" y2="482.46" stroke="#000" stroke-width="1"/>
<line x1="756.5" y1="100.5" x2="756.5" y2="482.46" stroke="#000" stroke-opacity="0.4" stroke-width="1"/>
<line x1="742.5" y1="132.33" x2="756.5" y2="132.33" stroke="#000" stroke-opacity="0.8" stroke-width="0.8"/>
<line x1="742.5" y1="164.16" x2="756.5" y2="164.16" stroke="#000" stroke-opacity="0.8" stroke-width="0.8"/>
<line x1="742.5" y1="195.99" x2="756.5" y2="195.99" stroke="#000" stroke-opacity="0.8" stroke-width="0.8"/>
<line x1="742.5" y1="227.82" x2="756.5" y2="227.82" stroke="#000" stroke-opacity="0.8" stroke-width="0.8"/>
<line x1="742.5" y1="259.65" x2="756.5" y2="259.65" stroke="#000" stroke-opacity="0.8" stroke-width="0.8"/>
<line x1="742.5" y1="291.48" x2="756.5" y2="291.48" stroke="#000" stroke-opacity="0.8" stroke-width="0.8"/>
<line x1="742.5" y1="323.31" x2="756.5" y2="323.31" stroke="#000" stroke-opacity="0.8" stroke-width="0.8"/>
<line x1="742.5" y1="355.14" x2="756.5" y2="355.14" stroke="#000" stroke-opacity="0.8" stroke-width="0.8"/>
<line x1="742.5" y1="386.97" x2="756.5" y2="386.97" stroke="#000" stroke-opacity="0.8" stroke-width="0.8"/>
<line x1="742.5" y1="418.80" x2="756.5" y2="418.80" stroke="#000" stroke-opacity="0.8" stroke-width="0.8"/>
<line x1="742.5" y1="450.63" x2="756.5" y2="450.63" stroke="#000" stroke-opacity="0.8" stroke-width="0.8"/>
</svg>
<div class="t" style="left:43.2px;top:6.4px;letter-spacing:0.00px;transform:scaleX(0.928)">ICON</div>
<div class="t" style="left:90.0px;top:6.4px;letter-spacing:-0.84px;transform:scaleX(0.900)">EU</div>
<div class="t" style="left:119.2px;top:6.4px;letter-spacing:0.22px;transform:scaleX(1.150)">0.0625</div>
<div class="t" style="left:186.0px;top:6.4px;letter-spacing:0.00px;transform:scaleX(1.113)">degree</div>
<div class="t" style="left:40.4px;top:28.6px;letter-spacing:0.56px;transform:scaleX(1.150)">36−h</div>
<div class="t" style="left:92.4px;top:28.6px;letter-spacing:0.24px;transform:scaleX(1.150)">Acc.Precipitation</div>
<div class="t" style="left:237.2px;top:28.6px;letter-spacing:1.52px;transform:scaleX(1.150)">(mm/36h)</div>
<div class="t" style="left:479.2px;top:6.4px;letter-spacing:0.32px;transform:scaleX(1.150)">Initialisation:</div>
<div class="t" style="left:591.2px;top:6.4px;letter-spacing:0.47px;transform:scaleX(1.150)">2025.11.16.</div>
<div class="t" style="left:698.4px;top:6.4px;letter-spacing:0.00px;transform:scaleX(1.007)">00</div>
<div class="t" style="left:728.0px;top:6.4px;letter-spacing:0.00px;transform:scaleX(0.947)">UTC</div>
<div class="t" style="left:473.2px;top:28.6px;letter-spacing:0.71px;transform:scaleX(1.150)">Valid(+105):</div>
<div class="t" style="left:585.2px;top:28.6px;letter-spacing:0.00px;transform:scaleX(1.131)">2025.NOV.20.</div>
<div class="t" style="left:704.0px;top:28.6px;letter-spacing:0.00px;transform:scaleX(1.031)">09</div>
<div class="t" style="left:734.4px;top:28.6px;letter-spacing:0.00px;transform:scaleX(0.999)">UTC</div>
<div class="cb" style="top:93.9px">300</div>
<div class="cb" style="top:125.7px">250</div>
<div class="cb" style="top:157.6px">200</div>
<div class="cb" style="top:189.4px">150</div>
<div class="cb" style="top:221.2px">125</div>
<div class="cb" style="top:253.0px">100</div>
<div class="cb" style="top:284.9px">75</div>
<div class="cb" style="top:316.7px">50</div>
<div class="cb" style="top:348.5px">30</div>
<div class="cb" style="top:380.4px">20</div>
<div class="cb" style="top:412.2px">10</div>
<div class="cb" style="top:444.0px">5</div>
<div class="cb" style="top:475.9px">1</div>
<div class="yl" style="top:525.2px">41.8N</div>
<div class="yl" style="top:465.2px">42N</div>
<div class="yl" style="top:405.2px">42.2N</div>
<div class="yl" style="top:345.2px">42.4N</div>
<div class="yl" style="top:285.2px">42.6N</div>
<div class="yl" style="top:225.2px">42.8N</div>
<div class="yl" style="top:165.2px">43N</div>
<div class="yl" style="top:105.2px">43.2N</div>
<div class="xl" style="left:114.0px">19.8E</div>
<div class="xl" style="left:164.0px">20E</div>
<div class="xl" style="left:214.0px">20.2E</div>
<div class="xl" style="left:264.0px">20.4E</div>
<div class="xl" style="left:314.0px">20.6E</div>
<div class="xl" style="left:364.0px">20.8E</div>
<div class="xl" style="left:414.0px">21E</div>
<div class="xl" style="left:464.0px">21.2E</div>
<div class="xl" style="left:514.0px">21.4E</div>
<div class="xl" style="left:564.0px">21.6E</div>
<div class="xl" style="left:614.0px">21.8E</div>
<div class="xl" style="left:664.0px">22E</div>
</div></body></html>
